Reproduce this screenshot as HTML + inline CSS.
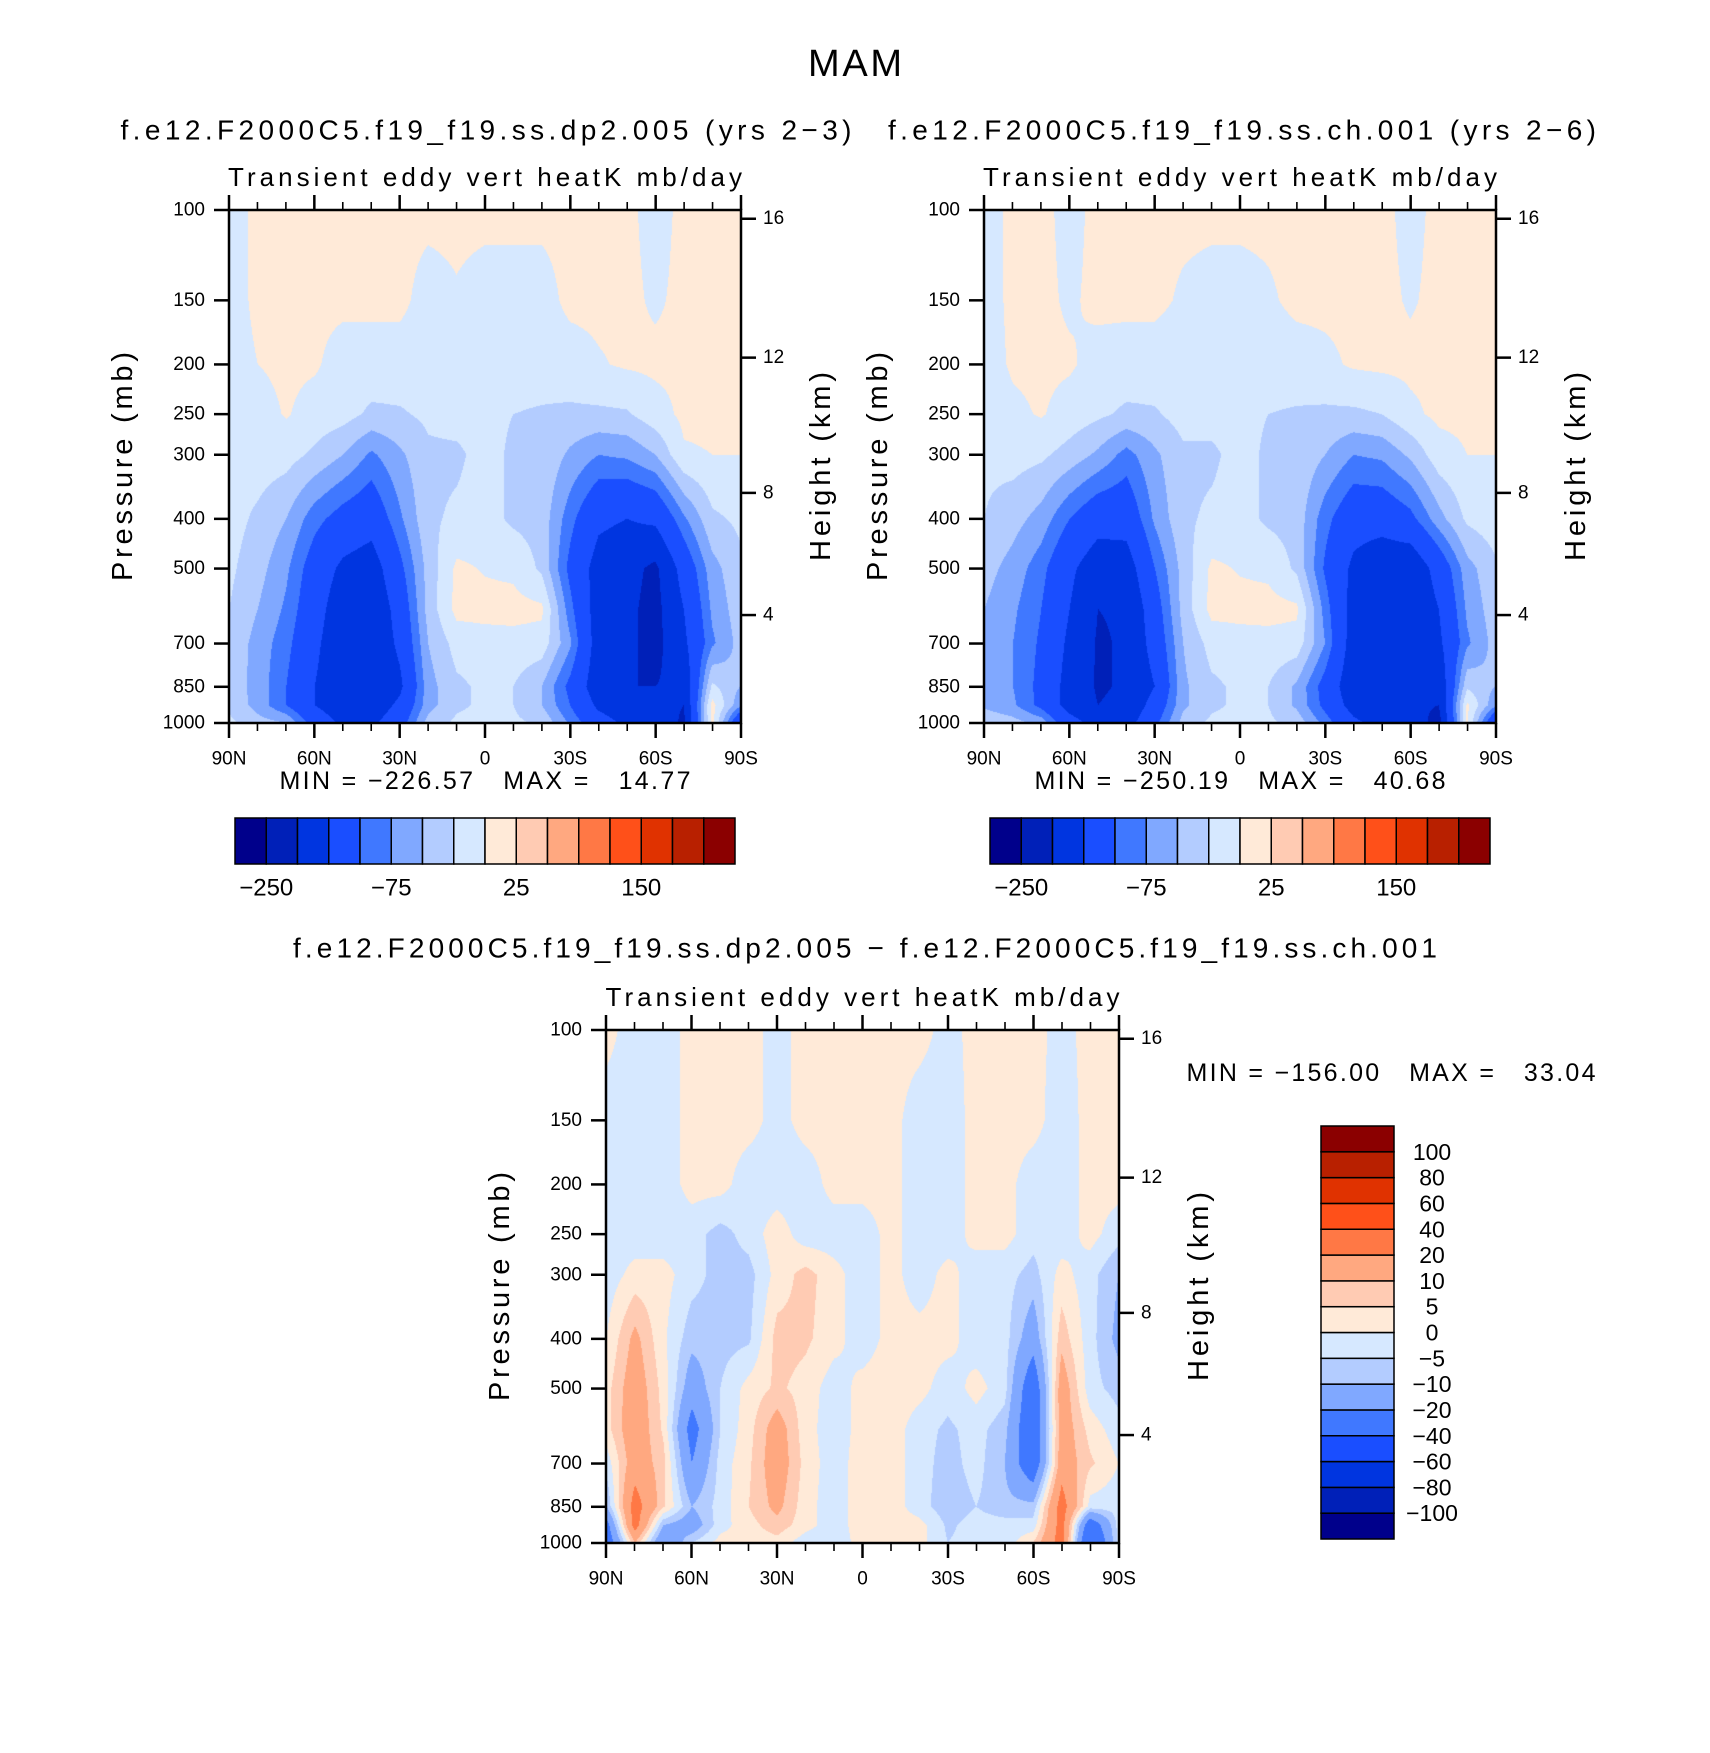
<!DOCTYPE html>
<html>
<head>
<meta charset="utf-8">
<style>
html,body{margin:0;padding:0;background:#fff;}
#root{position:relative;width:1710px;height:1753px;overflow:hidden;background:#fff;}
canvas{position:absolute;}
svg{position:absolute;left:0;top:0;}
text{font-family:"Liberation Sans",sans-serif;fill:#000;white-space:pre;}
</style>
</head>
<body>
<div id="root">
<canvas id="c1" style="left:229px;top:210px" width="512" height="513"></canvas>
<canvas id="c2" style="left:984px;top:210px" width="512" height="513"></canvas>
<canvas id="c3" style="left:606px;top:1030px" width="513" height="513"></canvas>
<svg id="svg" width="1710" height="1753"></svg>
</div>
<script>
// ---- data ----
const lats = [90,80,70,60,50,40,30,20,10,0,-10,-20,-30,-40,-50,-60,-70,-80,-90];
const pressures = [100,150,200,250,300,400,500,600,700,850,925,1000];
const levelsAbs = [-250,-200,-150,-100,-75,-50,-25,0,25,50,75,100,150,200,250];
const levelsDiff = [-100,-80,-60,-40,-20,-10,-5,0,5,10,20,40,60,80,100];
const colors = ["#00008b","#0020b8","#0035e0","#1a4eff","#4078ff","#80a8ff","#b3ccff","#d6e8ff","#ffead8","#ffcbb3","#ffa880","#ff7845","#ff5019","#e03200","#b82000","#8b0000"];
const cbLabelsAbs = ["\u2212250","\u221275","25","150"];
const cbLabelIdxAbs = [0,4,8,12];
const diffLabels = ["\u2212100","\u221280","\u221260","\u221240","\u221220","\u221210","\u22125","0","5","10","20","40","60","80","100"];
const latTickLabels = ["90N","60N","30N","0","30S","60S","90S"];
const pTickLabels = [100,150,200,250,300,400,500,700,850,1000];
const heightTicks = [16,12,8,4];
const heightTickPressures = [104,194,356,616];
const field1 = [
[-10,5,5,5,5,5,5,5,5,5,5,5,5,5,5,-8,5,5,5],
[-10,5,5,5,5,5,5,-8,-2,-8,-8,-8,5,5,5,-3,5,5,5],
[-10,0,5,3,-10,-10,-10,-12,-12,-12,-12,-12,-10,-2,3,5,5,5,5],
[-15,-10,2,-10,-15,-30,-28,-20,-15,-18,-25,-28,-30,-30,-28,-10,5,5,2],
[-15,-12,-15,-30,-50,-80,-55,-30,-30,-15,-30,-30,-55,-75,-70,-50,-3,0,0],
[-15,-30,-50,-90,-115,-130,-80,-30,-20,-15,-30,-35,-90,-140,-150,-140,-80,-30,-20],
[-20,-40,-70,-120,-160,-175,-110,-40,5,-2,-5,-30,-110,-170,-185,-210,-130,-60,-30],
[-25,-50,-80,-130,-180,-190,-130,-40,8,8,8,5,-90,-175,-190,-215,-150,-70,-35],
[-30,-60,-90,-140,-185,-190,-140,-50,-15,-10,-8,-10,-70,-175,-190,-215,-160,-80,-40],
[-35,-60,-100,-150,-185,-190,-160,-60,-30,-20,-25,-50,-110,-180,-200,-200,-190,-20,-50],
[-30,-60,-100,-150,-180,-180,-140,-60,-30,-20,-25,-50,-100,-160,-180,-180,-200,10,-70],
[-20,-40,-50,-120,-160,-160,-120,-40,-20,-15,-20,-30,-80,-130,-160,-160,-210,10,-150]
];
const field2 = [
[-10,5,5,-6,5,5,5,5,5,5,5,5,5,5,5,-6,5,5,5],
[-10,5,5,-3,5,5,5,-3,-8,-8,-3,5,5,5,5,-2,5,5,5],
[-10,3,5,3,-8,-10,-10,-12,-12,-12,-12,-10,-5,3,5,5,5,5,5],
[-15,-5,2,-10,-20,-30,-28,-15,-15,-18,-25,-28,-30,-30,-25,-5,5,5,3],
[-20,-15,-20,-35,-55,-85,-55,-30,-30,-15,-30,-30,-50,-75,-70,-45,-10,0,0],
[-25,-40,-60,-100,-130,-130,-70,-30,-20,-15,-30,-35,-90,-130,-130,-110,-60,-20,-10],
[-40,-60,-90,-140,-180,-175,-100,-40,5,-2,-5,-30,-105,-160,-185,-190,-130,-60,-30],
[-50,-70,-100,-150,-200,-195,-120,-40,8,8,8,5,-85,-170,-190,-195,-150,-70,-35],
[-55,-75,-105,-160,-205,-195,-130,-50,-15,-10,-8,-10,-75,-175,-190,-200,-160,-80,-40],
[-60,-75,-110,-170,-205,-195,-150,-55,-30,-20,-25,-55,-115,-185,-200,-200,-190,-30,-50],
[-55,-70,-110,-170,-200,-190,-130,-55,-30,-20,-25,-55,-110,-170,-190,-190,-200,5,-70],
[-30,-40,-60,-130,-170,-170,-110,-40,-20,-15,-20,-35,-85,-140,-170,-170,-220,5,-150]
];
const field3 = [
[2,-3,-3,2,2,2,-2,2,2,2,2,2,-2,2,2,2,-2,2,2],
[-3,-3,-3,2,2,2,-2,2,2,2,2,-3,-3,2,2,2,-3,2,2],
[-3,-3,-3,2,2,-3,-3,-3,2,2,2,-3,-3,2,2,-3,-3,2,2],
[-3,-3,-3,-3,-7,-3,3,-3,-3,-3,2,-3,-3,2,2,-3,-3,2,-3],
[-3,2,2,-3,-7,-7,2,7,2,-3,2,-3,2,-3,-3,-7,2,-3,-10],
[0,12,1,-8,-7,-6,7,6,2,-3,2,2,2,-3,-3,-15,8,-3,-12],
[3,15,3,-15,-5,2,6,3,-3,2,3,2,-3,2,-3,-30,15,-3,-7],
[3,16,4,-25,-5,3,14,2,-3,2,3,-3,-6,-3,-8,-32,15,3,-3],
[-3,15,7,-20,-3,4,15,3,-3,3,3,-3,-7,-3,-10,-30,15,6,0],
[-10,25,6,-10,-3,5,12,2,-3,3,3,-3,-8,-5,-8,-8,25,-2,-3],
[-25,25,-10,-15,-2,3,8,2,-3,3,3,2,-6,-3,-3,-3,25,-30,-3],
[-30,10,-20,-5,2,2,3,-3,-3,2,2,2,-5,-3,-3,5,25,-40,-3]
];

// ---- helpers ----
const NS="http://www.w3.org/2000/svg";
const svg=document.getElementById('svg');
function mk(tag,attrs,parent){const e=document.createElementNS(NS,tag);for(const k in attrs)e.setAttribute(k,attrs[k]);(parent||svg).appendChild(e);return e;}
function txt(s,x,y,fs,anchor,len,parent){const t=mk('text',{x:x,y:y,'font-size':fs,'text-anchor':anchor||'middle','dominant-baseline':'central'},parent);if(len){t.setAttribute('textLength',len);t.setAttribute('lengthAdjust','spacing');}t.textContent=s;return t;}

function sample(field,lat,p){
  let fx=(90-lat)/10; fx=Math.max(0,Math.min(18,fx));
  const i0=Math.min(17,Math.floor(fx)); const ax=fx-i0;
  const lp=Math.log10(p);
  let j0=0;
  for(let j=0;j<pressures.length-1;j++){ if(lp>=Math.log10(pressures[j])) j0=j; }
  j0=Math.min(pressures.length-2,j0);
  const l0=Math.log10(pressures[j0]), l1=Math.log10(pressures[j0+1]);
  let ay=(lp-l0)/(l1-l0); ay=Math.max(0,Math.min(1,ay));
  const r0=field[j0], r1=field[j0+1];
  const a=r0[i0]*(1-ax)+r0[i0+1]*ax;
  const b=r1[i0]*(1-ax)+r1[i0+1]*ax;
  return a*(1-ay)+b*ay;
}
function hex(c){return [parseInt(c.substr(1,2),16),parseInt(c.substr(3,2),16),parseInt(c.substr(5,2),16)];}
const rgb=colors.map(hex);
function drawField(id,field,levels){
  const cv=document.getElementById(id);const ctx=cv.getContext('2d');
  const W=cv.width,H=cv.height;const img=ctx.createImageData(W,H);
  for(let y=0;y<H;y++){
    const p=Math.pow(10,2+y/(H-1));
    for(let x=0;x<W;x++){
      const lat=90-180*x/(W-1);
      const v=sample(field,lat,p);
      let k=0; while(k<levels.length && v>=levels[k]) k++;
      const c=rgb[k]; const o=(y*W+x)*4;
      img.data[o]=c[0];img.data[o+1]=c[1];img.data[o+2]=c[2];img.data[o+3]=255;
    }
  }
  ctx.putImageData(img,0,0);
}
drawField('c1',field1,levelsAbs);
drawField('c2',field2,levelsAbs);
drawField('c3',field3,levelsDiff);

function panel(name,x0,y0,w,h,title,tx,ty,tlen,subLen,minmax,mmx,mmy,mmlen){
  const g=mk('g',{});
  
  
  const xs=lat=>x0+(90-lat)/180*w;
  const ys=p=>y0+Math.log10(p/100)*h;
  const t1=txt(title,tx,ty,28,'middle',tlen,g);
  
  const t2=txt('Transient eddy vert heatK mb/day',x0+w/2,y0-33,26,'middle',subLen,g);
  
  const fr=mk('rect',{x:x0,y:y0,width:w,height:h,fill:'none',stroke:'#000','stroke-width':2.5},g);
  
  for(let lat=90;lat>=-90;lat-=10){
    const major=(lat%30===0); const L=major?15:8; const x=xs(lat);
    mk('line',{x1:x,x2:x,y1:y0,y2:y0-L,stroke:'#000','stroke-width':major?2.5:1.6},g);
    mk('line',{x1:x,x2:x,y1:y0+h,y2:y0+h+L,stroke:'#000','stroke-width':major?2.5:1.6},g);
  }
  latTickLabels.forEach((s,i)=>{const t=txt(s,xs(90-30*i),y0+h+36,19,'middle',null,g);});
  pTickLabels.forEach(p=>{const y=ys(p);
    mk('line',{x1:x0,x2:x0-15,y1:y,y2:y,stroke:'#000','stroke-width':2.5},g);
    const t=txt(String(p),x0-24,y,19,'end',null,g);});
  heightTicks.forEach((z,i)=>{const y=ys(heightTickPressures[i]);
    mk('line',{x1:x0+w,x2:x0+w+15,y1:y,y2:y,stroke:'#000','stroke-width':2.5},g);
    const t=txt(String(z),x0+w+22,y,19,'start',null,g);});
  const yt=txt('Pressure (mb)',0,0,29,'middle',229,g);
  yt.setAttribute('transform','translate('+(x0-106)+','+(y0+h/2)+') rotate(-90)');
  
  const ht=txt('Height (km)',0,0,29,'middle',189,g);
  ht.setAttribute('transform','translate('+(x0+w+80)+','+(y0+h/2)+') rotate(-90)');
  
  const mm=txt(minmax,mmx,mmy,25,'middle',mmlen,g);
  
}
const t0=txt('MAM',855,64,38,'middle',94);

panel('panel-dp2',229,210,512,513,'f.e12.F2000C5.f19_f19.ss.dp2.005 (yrs 2\u22123)',486,130,731,514,'MIN = \u2212226.57   MAX =   14.77',485,781,411);
panel('panel-ch001',984,210,512,513,'f.e12.F2000C5.f19_f19.ss.ch.001 (yrs 2\u22126)',1242,130,708,514,'MIN = \u2212250.19   MAX =   40.68',1240,781,411);
panel('panel-difference',606,1030,513,513,'f.e12.F2000C5.f19_f19.ss.dp2.005 \u2212 f.e12.F2000C5.f19_f19.ss.ch.001',865,948,1144,514,'MIN = \u2212156.00   MAX =   33.04',1391,1073,409);

function hbar(name,x0,y0,w,h){
  const g=mk('g',{});
  
  
  const bw=w/colors.length;
  colors.forEach((c,i)=>{const r=mk('rect',{x:x0+i*bw,y:y0,width:bw,height:h,fill:c,stroke:'#000','stroke-width':1.5},g);
    });
  cbLabelsAbs.forEach((s,i)=>{const t=txt(s,x0+(cbLabelIdxAbs[i]+1)*bw,y0+h+24,24,'middle',null,g);
    });
}
hbar('colorbar-dp2',235,818,500,46);
hbar('colorbar-ch001',990,818,500,46);
(function(){
  const x0=1321,y0=1126,w=73,h=413;const g=mk('g',{});
  
  
  const bh=h/colors.length;
  colors.forEach((c,i)=>{const r=mk('rect',{x:x0,y:y0+h-(i+1)*bh,width:w,height:bh,fill:c,stroke:'#000','stroke-width':1.5},g);
    });
  diffLabels.forEach((s,i)=>{const t=txt(s,1432,y0+h-(i+1)*bh,23,'middle',null,g);
    });
})();
</script>
</body>
</html>
